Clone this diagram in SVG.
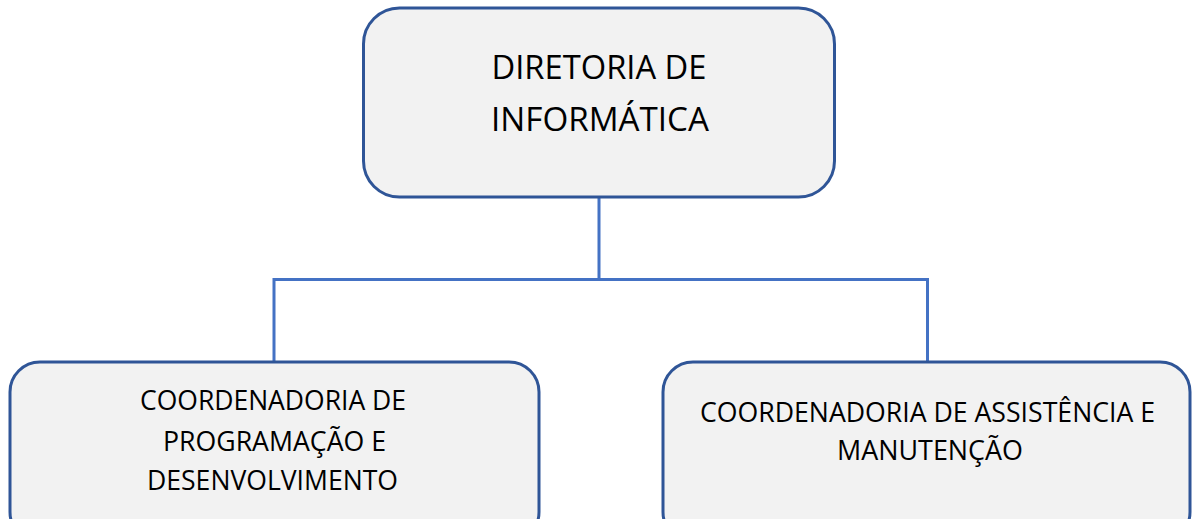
<svg xmlns="http://www.w3.org/2000/svg" width="1192" height="519" viewBox="0 0 1192 519">
<style>
.box{fill:#F2F2F2;stroke:#2F5597;stroke-width:3}
.conn{fill:none;stroke:#4472C4;stroke-width:3}
.t{font-family:"Open Sans","Lato","Liberation Sans",sans-serif;fill:#000;text-anchor:middle}
.big{font-size:33px}
.sm{font-size:27px}
</style>
<rect width="1192" height="519" fill="#FFFFFF"/>
<g id="connectors">
<path class="conn" d="M599 198 V279.5 M274 279.5 H927.5 M274 278 V362 M927.5 278 V362"/>
</g>
<g id="node-diretoria">
<rect class="box" x="363.5" y="8" width="471" height="189" rx="36" ry="36"/>
<text class="t big" x="599" y="78.5" textLength="215" lengthAdjust="spacingAndGlyphs">DIRETORIA DE</text>
<text class="t big" x="600" y="130.5" textLength="218" lengthAdjust="spacingAndGlyphs">INFORMÁTICA</text>
</g>
<g id="node-programacao">
<rect class="box" x="10" y="362" width="529" height="180" rx="30" ry="30"/>
<text class="t sm" x="273" y="410" textLength="266" lengthAdjust="spacingAndGlyphs">COORDENADORIA DE</text>
<text class="t sm" x="274.5" y="451" textLength="223" lengthAdjust="spacingAndGlyphs">PROGRAMAÇÃO E</text>
<text class="t sm" x="272.5" y="490" textLength="251" lengthAdjust="spacingAndGlyphs">DESENVOLVIMENTO</text>
</g>
<g id="node-assistencia">
<rect class="box" x="663" y="362" width="527" height="180" rx="30" ry="30"/>
<text class="t sm" x="927.5" y="421.5" textLength="455" lengthAdjust="spacingAndGlyphs">COORDENADORIA DE ASSISTÊNCIA E</text>
<text class="t sm" x="930" y="460" textLength="186" lengthAdjust="spacingAndGlyphs">MANUTENÇÃO</text>
</g>
</svg>
